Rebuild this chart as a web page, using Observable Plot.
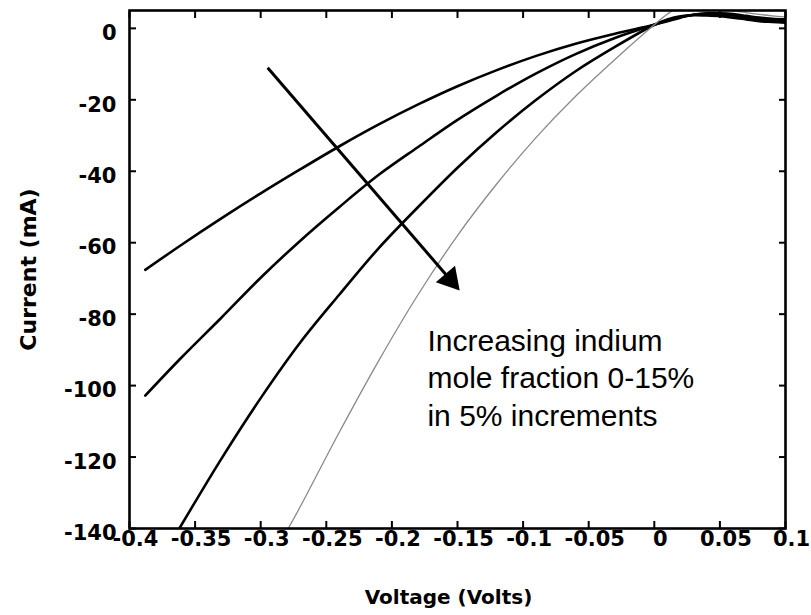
<!DOCTYPE html>
<html><head><meta charset="utf-8">
<script src="https://cdn.jsdelivr.net/npm/d3@7"></script>
<script src="https://cdn.jsdelivr.net/npm/@observablehq/plot@0.6"></script>
<style>
body{margin:0;background:#fff}
#chart svg{display:block;background:#fff}
g[aria-label="x-title"] text{letter-spacing:1.8px}
g[aria-label="y-title"] text{letter-spacing:1.5px}
g[aria-label="note"] text{letter-spacing:1.6px}
</style>
</head><body><div id="chart"></div>
<script>
// Indium mole fraction 0%
const volts0 = [-0.388, -0.36, -0.33, -0.30, -0.27, -0.24, -0.21, -0.18, -0.15, -0.12, -0.09, -0.06, -0.03, 0, 0.01, 0.02, 0.03, 0.04, 0.05, 0.06, 0.07, 0.08, 0.09, 0.1];
const current0 = [-67.6, -60.5, -53.2, -46.2, -39.5, -33, -26.9, -21.3, -16.2, -11.7, -7.7, -4.3, -1.5, 1, 2.0, 3.0, 3.8, 4.2, 4.2, 4.0, 3.5, 3.0, 2.7, 2.5];
// 5%
const volts5 = [-0.388, -0.36, -0.33, -0.30, -0.27, -0.24, -0.21, -0.18, -0.15, -0.12, -0.09, -0.06, -0.03, 0, 0.01, 0.02, 0.03, 0.04, 0.05, 0.06, 0.07, 0.08, 0.09, 0.1];
const current5 = [-102.8, -92, -81, -69.8, -59.5, -50, -41, -33.2, -25.6, -18.8, -12.6, -7.2, -2.7, 1, 2.2, 3.2, 3.8, 4.0, 3.9, 3.6, 3.0, 2.5, 2.2, 2.0];
// 10%
const volts10 = [-0.362, -0.33, -0.30, -0.27, -0.24, -0.21, -0.18, -0.15, -0.12, -0.09, -0.06, -0.03, 0, 0.01, 0.02, 0.03, 0.04, 0.05, 0.06, 0.07, 0.08, 0.09, 0.1];
const current10 = [-140, -120.5, -103.5, -88, -74.5, -61.5, -50, -39, -29, -20, -12, -5.2, 1, 2.5, 3.4, 3.7, 3.6, 3.4, 3.0, 2.5, 2.0, 1.8, 1.6];
// 15%
const volts15 = [-0.279, -0.27, -0.24, -0.21, -0.18, -0.15, -0.12, -0.09, -0.06, -0.03, 0, 0.01, 0.02, 0.03, 0.04, 0.05, 0.06, 0.07, 0.08, 0.09, 0.1];
const current15 = [-140, -134, -113, -93, -74.5, -58, -43.5, -30.5, -19, -8.7, 1, 4, 6.2, 7, 7, 6.2, 5, 4.4, 3.9, 3.5, 3.2];

const xTicks = [-0.4, -0.35, -0.3, -0.25, -0.2, -0.15, -0.1, -0.05, 0, 0.05, 0.1];
const xTickLabels = ["-0.4", "-0.35", "-0.3", "-0.25", "-0.2", "-0.15", "-0.1", "-0.05", "0", "0.05", "0.1"];
const yTicks = [0, -20, -40, -60, -80, -100, -120, -140];
const yTickLabels = ["0", "-20", "-40", "-60", "-80", "-100", "-120", "-140"];
const xTitle = "Voltage (Volts)";
const yTitle = "Current (mA)";
const noteLines = ["Increasing indium", "mole fraction 0-15%", "in 5% increments"];
const noteAt = [{v: -0.1729, i: -82.8}];
const arrowLine = [{v1: -0.2947, i1: -11.0, v2: -0.1556, i2: -70.3}];
const arrowHead = [{v: -0.1556, i: -70.3}];

const series = (name, vs, is) => vs.map((v, k) => ({name, v, i: is[k]}));
const blackData = [
  ...series("0%", volts0, current0),
  ...series("5%", volts5, current5),
  ...series("10%", volts10, current10)
];
const grayData = series("15%", volts15, current15);

const lbl = (ticks, labels) => d => { const k = ticks.findIndex(t => Math.abs(t - d) < 1e-9); return k < 0 ? "" : labels[k]; };
const tickFont = {fontSize: 21, fontWeight: "bold", fontFamily: "DejaVu Sans, Liberation Sans, sans-serif"};

const chart = Plot.plot({
  width: 811, height: 615,
  marginLeft: 129, marginRight: 26, marginTop: 10, marginBottom: 87,
  x: {domain: [-0.4, 0.1]},
  y: {domain: [-140, 5]},
  style: {background: "#fff", color: "#000"},
  marks: [
    Plot.line(blackData, {x: "v", y: "i", z: "name", stroke: "#000", strokeWidth: 2.6, curve: "catmull-rom", clip: true}),
    Plot.line(grayData, {x: "v", y: "i", stroke: "#8a8a8a", strokeWidth: 1.3, curve: "catmull-rom", clip: true}),
    Plot.link(arrowLine, {x1: "v1", y1: "i1", x2: "v2", y2: "i2", stroke: "#000", strokeWidth: 3}),
    Plot.dot(arrowHead, {x: "v", y: "i", symbol: "triangle", r: 9.4, fill: "#000", stroke: "none", rotate: 139.4}),
    Plot.text(noteAt, {x: "v", y: "i", text: () => noteLines.join("\n"), textAnchor: "start", lineAnchor: "top", lineHeight: 1.25, fontSize: 30, fontFamily: "Liberation Sans, Arial, sans-serif", fill: "#000", ariaLabel: "note"}),
    Plot.frame({stroke: "#000", strokeWidth: 2.6}),
    Plot.axisX({anchor: "bottom", ticks: xTicks, tickSize: -7, tickFormat: () => "", label: null, strokeWidth: 2}),
    Plot.axisX({anchor: "top", ticks: xTicks, tickSize: -7, tickFormat: () => "", label: null, strokeWidth: 2}),
    Plot.axisY({anchor: "left", ticks: yTicks, tickSize: -7, tickFormat: () => "", label: null, strokeWidth: 2}),
    Plot.axisY({anchor: "right", ticks: yTicks, tickSize: -7, tickFormat: () => "", label: null, strokeWidth: 2}),
    Plot.axisX({anchor: "bottom", ticks: xTicks, tickSize: 0, tickPadding: 3, tickFormat: lbl(xTicks, xTickLabels), label: null, dx: 6, ...tickFont}),
    Plot.axisY({anchor: "left", ticks: yTicks, tickSize: 0, tickPadding: 13, tickFormat: lbl(yTicks, yTickLabels), label: null, dy: 5, ...tickFont}),
    Plot.text([xTitle], {frameAnchor: "bottom", lineAnchor: "middle", textAnchor: "middle", dy: 69, dx: -9, fontSize: 20, fontWeight: "bold", fontFamily: "DejaVu Sans, sans-serif", ariaLabel: "x-title", fill: "#000"}),
    Plot.text([yTitle], {frameAnchor: "left", textAnchor: "middle", lineAnchor: "middle", dx: -101, rotate: -90, fontSize: 22, fontWeight: "bold", fontFamily: "DejaVu Sans, sans-serif", ariaLabel: "y-title", fill: "#000"})
  ]
});
document.getElementById("chart").appendChild(chart);
</script>
</body></html>
